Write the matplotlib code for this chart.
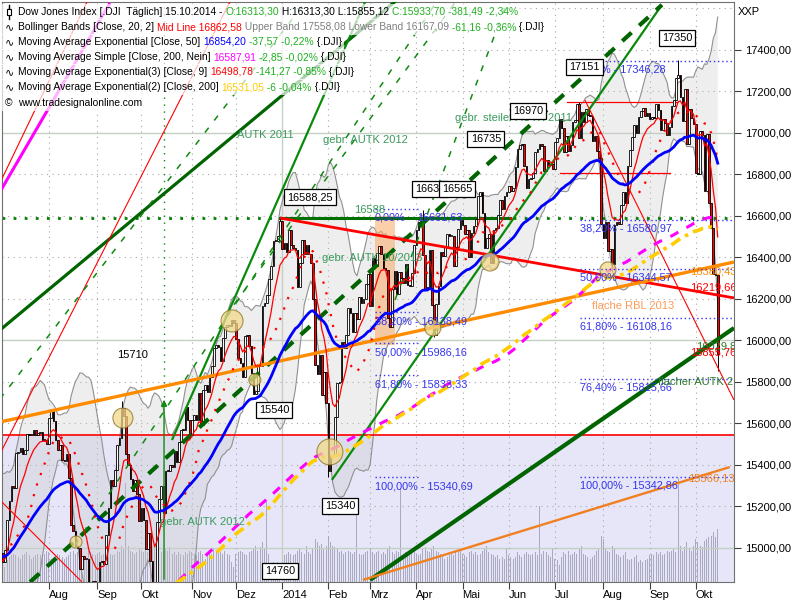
import numpy as np
import pandas as pd
import matplotlib
matplotlib.use('Agg')
import matplotlib.pyplot as plt
from matplotlib.patches import Rectangle, Ellipse
from matplotlib.lines import Line2D

plt.rcParams['font.family'] = ['Liberation Sans', 'DejaVu Sans']

# --- DJI daily closes, Jan-Jun 2013 (only needed to warm up the 200-day averages)
pre_close = [
    13412, 13391, 13435, 13384, 13329, 13390, 13471, 13488, 13507, 13534, 13511,
    13596, 13650, 13712, 13779, 13825, 13896, 13881, 13954, 13910, 13861,
    14010, 13880, 13979, 13986, 13944, 13993, 13971, 14019, 13982, 13973,
    13981, 14035, 13928, 13881, 14000, 13784, 13900, 14076, 14054,
    14090, 14128, 14254, 14296, 14329, 14397, 14447, 14450, 14455, 14539,
    14514, 14453, 14456, 14512, 14421, 14512, 14448, 14560, 14527, 14579,
    14573, 14662, 14550, 14606, 14565, 14613, 14673, 14802, 14865, 14865, 14599,
    14757, 14619, 14538, 14548, 14568, 14719, 14676, 14700, 14713, 14819, 14840,
    14700, 14831, 14974, 14969, 15056, 15105, 15083, 15118, 15091, 15215, 15275,
    15233, 15354, 15335, 15388, 15307, 15294, 15303, 15409, 15302, 15324, 15116,
    15254, 15177, 14960, 15040, 15248, 15239, 15122, 14995, 15176, 15070,
    15180, 15318, 15112, 14758, 14800, 14660, 14760, 14910, 15024, 14910,
]

# --- visible period, Jul 2013 - 15.10.2014
close = [
    # Jul 2013
    14975, 14932, 14988, 15135, 15225, 15300, 15291, 15460, 15464, 15484, 15451,
    15470, 15548, 15543, 15545, 15568, 15542, 15555, 15559, 15521, 15520, 15500,
    # Aug
    15628, 15658, 15612, 15519, 15471, 15498, 15425, 15419, 15451, 15337, 15112,
    15081, 15011, 15002, 14897, 14963, 14946, 14946, 14776, 14824, 14840, 14810,
    # Sep
    14834, 14930, 14938, 14922, 15063, 15191, 15326, 15300, 15376, 15494,
    15529, 15676, 15636, 15451, 15401, 15334, 15273, 15328, 15258, 15130,
    # Okt
    15192, 15133, 14996, 15073, 14936, 14776, 14802, 15127, 15237, 15301, 15168, 15373,
    15372, 15400, 15392, 15468, 15413, 15509, 15570, 15569, 15681, 15619, 15546,
    # Nov
    15616, 15639, 15618, 15747, 15594, 15762, 15784, 15751, 15822, 15876,
    15962, 15976, 15968, 15900, 16010, 16065, 16073, 16072, 16097, 16086,
    # Dez
    16008, 15915, 15889, 15822, 16020, 16025, 15973, 15844, 15740, 15755, 15885,
    15875, 16168, 16179, 16221, 16294, 16358, 16479, 16478, 16505, 16577,
    # Jan 2014
    16441, 16470, 16425, 16531, 16462, 16445, 16437, 16257, 16374, 16482, 16418,
    16459, 16415, 16374, 16198, 15880, 15838, 15929, 15739, 15849, 15699,
    # Feb
    15373, 15445, 15441, 15629, 15795, 15802, 15994, 15964, 16028, 16154,
    16130, 16041, 16134, 16104, 16208, 16180, 16199, 16273, 16322,
    # Mrz
    16168, 16396, 16361, 16422, 16453, 16419, 16351, 16340, 16109, 16066, 16247,
    16337, 16223, 16332, 16303, 16276, 16368, 16268, 16264, 16324, 16458,
    # Apr
    16533, 16573, 16573, 16413, 16246, 16257, 16437, 16171, 16027, 16174, 16263,
    16425, 16409, 16449, 16514, 16502, 16502, 16361, 16449, 16535, 16581,
    # Mai
    16558, 16513, 16531, 16401, 16518, 16551, 16583, 16695, 16715, 16614, 16447,
    16492, 16511, 16374, 16533, 16543, 16606, 16676, 16633, 16698, 16717,
    # Jun
    16743, 16722, 16737, 16836, 16924, 16943, 16945, 16843, 16734, 16776, 16781,
    16808, 16906, 16921, 16947, 16937, 16818, 16868, 16846, 16851, 16827,
    # Jul
    16956, 16976, 17068, 17024, 16906, 16985, 16915, 16944, 17055, 17060, 17138,
    16977, 17100, 17052, 17114, 17087, 17083, 16961, 16983, 16913, 16880, 16563,
    # Aug
    16493, 16569, 16430, 16443, 16369, 16554, 16570, 16561, 16652, 16713, 16663,
    16839, 16919, 16979, 17039, 17001, 17077, 17107, 17122, 17080, 17098,
    # Sep
    17068, 17079, 17070, 17138, 17112, 17014, 17068, 17049, 16988, 17031, 17131,
    17157, 17266, 17280, 17173, 17056, 17211, 16946, 17113, 17071, 17043,
    # Okt
    16805, 16802, 17010, 16992, 16720, 16995, 16660, 16544, 16321, 16315, 15934,
]

# notable intraday extremes {day index: (high, low)}
extremes = {
    55: (15709, None), 127: (16588, None), 149: (None, 15341), 192: (16631, None),
    197: (None, 16015), 263: (17151, None), 278: (None, 16333), 308: (17350, None),
    326: (16313, 15855),
}
last_open = 16313.3

volume = [
    70, 75, 45, 65, 75, 80, 85, 80, 75, 70, 80, 85, 90, 80, 70, 75, 80, 85, 80, 75, 85, 95,
    90, 70, 65, 80, 85, 80, 75, 70, 75, 80, 90, 95, 85, 90, 95, 80, 75, 70, 95, 90, 85, 80,
    85, 90, 80, 85, 90, 95, 85, 80, 85, 95, 90, 110, 100, 300, 110, 95, 90, 85, 90, 100,
    95, 90, 100, 90, 95, 110, 105, 120, 100, 90, 95, 100, 95, 105, 85, 90, 80, 90, 85, 80, 90, 85, 95,
    90, 85, 80, 90, 95, 85, 70, 85, 90, 85, 100, 90, 95, 90, 85, 95, 85, 80, 60, 45,
    85, 90, 95, 90, 85, 80, 90, 95, 100, 110, 95, 105, 120, 100, 240, 85, 40, 60, 55, 60, 55,
    70, 80, 85, 90, 85, 80, 85, 95, 100, 90, 85, 110, 90, 85, 100, 130, 120, 110, 115, 100, 110,
    140, 120, 110, 105, 100, 90, 95, 85, 90, 95, 90, 85, 90, 225, 85, 80, 85, 90, 95,
    100, 90, 85, 90, 95, 85, 90, 85, 100, 110, 90, 85, 95, 90, 285, 85, 90, 85, 80, 95, 100,
    85, 80, 85, 100, 105, 95, 90, 100, 110, 95, 90, 85, 80, 70, 75, 80, 85, 80, 95, 90, 95,
    85, 80, 75, 90, 95, 85, 90, 80, 85, 95, 100, 110, 90, 85, 80, 75, 80, 70, 75, 70, 100,
    80, 75, 70, 75, 90, 80, 75, 85, 90, 85, 80, 85, 90, 80, 230, 85, 95, 90, 80, 75, 100,
    70, 65, 50, 75, 90, 85, 95, 80, 85, 90, 85, 100, 110, 85, 80, 75, 70, 75, 80, 95, 100, 140,
    130, 100, 95, 90, 110, 100, 85, 80, 75, 80, 90, 70, 65, 70, 75, 80, 60, 65, 60, 65, 70,
    80, 85, 80, 90, 85, 90, 80, 85, 95, 90, 95, 100, 90, 315, 110, 95, 105, 120, 100, 95, 110,
    130, 120, 110, 105, 125, 130, 135, 140, 150, 135, 160,
]

month_days = [22, 22, 20, 23, 20, 21, 21, 19, 21, 21, 21, 21, 22, 21, 21, 11]
month_labels = ['Aug', 'Sep', 'Okt', 'Nov', 'Dez', '2014', 'Feb', 'Mrz', 'Apr',
                'Mai', 'Jun', 'Jul', 'Aug', 'Sep', 'Okt']

# drawn objects: (day1, price1, day2, price2)
trend_lines = {
    'autk2011': (-0.3, 16050, 180.2, 17641),
    'autk2012': (77.9, 15520, 166.1, 17641),
    'feb_low': (150.6, 15328, 300.6, 17617),
    'flacher': (167.9, 14846, 333.4, 16060),
    'steiler': (13.4, 14836, 300.6, 17617),
    'red_down': (127.0, 16590, 333.4, 16205),
    'rbl2013': (-0.3, 15607, 333.4, 16378),
    'orange_low': (164.7, 14846, 331.5, 15390),
    'red1': (-0.3, 15453, 104.7, 17641),
    'red2': (-0.3, 16759, 39.7, 17641),
    'magenta': (-0.3, 16716, 49.7, 17626),
    'red3': (265.6, 17159, 333.4, 15713),
    'red4': (-0.3, 15231, 37.0, 14836),
    'g1': (-0.3, 15718, 139.3, 17641),
    'g2': (33.8, 15014, 198.8, 17641),
    'g3': (102.0, 16113, 207.5, 17641),
    'g4': (179.3, 16195, 230.6, 17641),
}

fib_left = [('0,00%', 16631.63), ('38,20%', 16138.49), ('50,00%', 15986.16),
            ('61,80%', 15833.33), ('100,00%', 15340.69)]
fib_right = [('0,00%', 17346.28), ('38,20%', 16580.97), ('50,00%', 16344.57),
             ('61,80%', 16108.16), ('76,40%', 15815.66), ('100,00%', 15342.86)]

boxes = [('16588,25', 140.6, 16691), ('15540', 124.3, 15665), ('15340', 154.3, 15202),
         ('14760', 127.0, 14889), ('16631', 195.2, 16730), ('16565', 207.5, 16730),
         ('16735', 220.6, 16971), ('16970', 239.7, 17106), ('17151', 265.6, 17318),
         ('17350', 307.5, 17458)]

circles = [(105.2, 16094, 11), (115.6, 15810, 6), (55.6, 15626, 10), (34.3, 15029, 6),
           (149.7, 15463, 13), (196.5, 16060, 8), (222.5, 16378, 9), (276.1, 16340, 8)]

# --- indicators
allc = pd.Series(pre_close + close, dtype=float)
npre = len(pre_close)
ema50 = allc.ewm(span=50, adjust=False).mean().values[npre:]
ema9 = allc.ewm(span=9, adjust=False).mean().values[npre:]
ema200 = allc.ewm(span=200, adjust=False).mean().values[npre:]
sma200 = allc.rolling(200).mean().values[npre:]
sma20 = allc.rolling(20).mean()
sd20 = allc.rolling(20).std(ddof=0)
bb_up = (sma20 + 2 * sd20).values[npre:]
bb_lo = (sma20 - 2 * sd20).values[npre:]
sma20 = sma20.values[npre:]

c = np.array(close, dtype=float)
n = len(c)
assert len(volume) == n and sum(month_days) == n
o = np.r_[pre_close[-1], c[:-1]]
o[-1] = last_open
hi = np.maximum(o, c)
lo = np.minimum(o, c)
for k, (h, l) in extremes.items():
    if h: hi[k] = max(hi[k], h)
    if l: lo[k] = min(lo[k], l)
x = np.arange(n)

XMIN, XMAX = 0.64, 333.4
YMIN, YMAX = 14836, 17631

fig = plt.figure(figsize=(8, 6), dpi=100)
ax = fig.add_axes([2 / 800, 18 / 600, 732 / 800, 580 / 600])
axv = ax.twinx()
ax.set_zorder(2)
axv.set_zorder(1)
ax.patch.set_visible(False)
axv.patch.set_facecolor('white')

ax.set_xlim(XMIN, XMAX)
ax.set_ylim(YMIN, YMAX)
axv.set_ylim(0, 1750)
axv.set_yticks([])

# lower zone and volume
axv.add_patch(Rectangle((XMIN, YMIN), XMAX - XMIN, 15545 - YMIN, transform=ax.transData,
                        facecolor='#e6e6f8', edgecolor='none', zorder=0))
axv.bar(x, volume, width=0.45, color='#a9a9bf', zorder=1)

# grid
for v in range(15000, 17601, 200):
    if v % 1000 == 0:
        ax.axhline(v, color='#c4d0c4', lw=1, zorder=0.5)
    else:
        ax.axhline(v, color='#a8a8a8', lw=0.8, ls=(0, (1, 4)), zorder=0.5)
starts = np.cumsum(month_days)[:-1]
for s, lab in zip(starts, month_labels):
    if lab == '2014':
        ax.axvline(s, color='#c4d0c4', lw=1, zorder=0.5)
    else:
        ax.axvline(s, color='#a8a8a8', lw=0.8, ls=(0, (1, 4)), zorder=0.5)

# Bollinger bands
ax.fill_between(x, bb_lo, bb_up, color='#c8c8c8', alpha=0.3, lw=0, zorder=1)
ax.plot(x, bb_up, color='#909090', lw=0.8, zorder=1.2)
ax.plot(x, bb_lo, color='#909090', lw=0.8, zorder=1.2)

ax.add_patch(Rectangle((170.2, 15978), 9.1, 622, facecolor='#f7b070', alpha=0.6,
                       edgecolor='none', zorder=1.5))

# horizontals
ax.axhline(15545, color='red', lw=1.2, zorder=2)
ax.axhline(16590, color='#008000', lw=2, ls=(0, (1, 3)), zorder=2)
ax.plot([127, 231.5], [16590, 16590], color='#007000', lw=2.2, zorder=2.1)
ax.plot([257.5, 307.5], [17151, 17151], color='red', lw=0.9, zorder=2.1)
ax.plot([254.3, 304.3], [16807, 16807], color='red', lw=0.9, zorder=2.1)

# trend lines
styles = {
    'autk2011': dict(color='#006400', lw=2.3),
    'autk2012': dict(color='#0a8a0a', lw=1.6),
    'feb_low': dict(color='#0a8a0a', lw=1.6),
    'flacher': dict(color='#006400', lw=3),
    'steiler': dict(color='#006400', lw=3, ls=(0, (3, 2.5))),
    'red_down': dict(color='#ff0000', lw=2),
    'rbl2013': dict(color='#ff8c00', lw=2.4),
    'orange_low': dict(color='#f08020', lw=1.7),
    'red1': dict(color='#ff0000', lw=0.8),
    'red2': dict(color='#ff0000', lw=0.8),
    'magenta': dict(color='#ff00ff', lw=2.2),
    'red3': dict(color='#ff0000', lw=0.8),
    'red4': dict(color='#ff0000', lw=0.8),
    'g1': dict(color='#108a10', lw=1.1, ls=(0, (4, 6))),
    'g2': dict(color='#108a10', lw=1.1, ls=(0, (4, 6))),
    'g3': dict(color='#108a10', lw=1.1, ls=(0, (4, 6))),
    'g4': dict(color='#108a10', lw=1.1, ls=(0, (4, 6))),
}
for key, (x1, y1, x2, y2) in trend_lines.items():
    ax.plot([x1, x2], [y1, y2], zorder=4, solid_capstyle='butt', **styles[key])

# vertical arrow "gebr. AUTK 2012"
ax.plot([74.3, 74.3], [15728, YMAX], color='#108a10', lw=1, ls=(0, (1, 4)), zorder=2)
ax.annotate('', xy=(74.3, 15728), xytext=(74.3, YMIN),
            arrowprops=dict(arrowstyle='-|>', color='#108a10', lw=1, mutation_scale=9), zorder=4)

# candles
ax.vlines(x, lo, hi, color='black', lw=0.7, zorder=3)
body = np.maximum(np.abs(c - o), 4)
ax.bar(x, body, bottom=np.minimum(o, c), width=0.75,
       color=np.where(c >= o, 'white', 'red'), edgecolor='black', lw=0.6, zorder=3.1)

# averages
ax.plot(x, ema9, color='red', lw=0.9, zorder=5)
ax.plot(x, sma20, color='red', lw=1.6, ls=(0, (1, 4)), zorder=5)
ax.plot(x, ema50, color='#0000ff', lw=2, zorder=5)
ax.plot(x, sma200, color='#ff00ff', lw=2.2, ls=(0, (3, 3)), zorder=5)
ax.plot(x, ema200, color='#ffcc00', lw=2.6, ls=(0, (3, 1.5, 1, 1.5)), zorder=5)

# circles
for cx, cy, r in circles:
    ax.add_patch(Ellipse((cx, cy), 2 * r / 2.2, 2 * r * 4.819, facecolor='#f2d98a', alpha=0.75,
                         edgecolor='#8a7020', lw=0.8, zorder=6))

# fibonacci
blue = '#3333ee'
for lab, v in fib_left:
    ax.plot([170.2, 189.8], [v, v], color=blue, lw=1, ls=(0, (1, 2)), zorder=6)
for lab, v in fib_left[1:]:
    ax.text(170.2, v - 45, f'{lab} - {v:.2f}'.replace('.', ','), color=blue, fontsize=7.8,
            va='center', zorder=7)
ax.text(170.2, 16591, '0,00%', color=blue, fontsize=7.8, va='center', zorder=7)
ax.text(189.3, 16591, '16631,63', color=blue, fontsize=7.8, va='center', zorder=7)
for lab, v in fib_right:
    ax.plot([263.4, XMAX], [v, v], color=blue, lw=1, ls=(0, (1, 2)), zorder=6)
    ax.text(263.4, v - 42, f'{lab} - {v:.2f}'.replace('.', ','), color=blue, fontsize=7.8,
            va='center', zorder=7)

# boxes
for lab, bx, by in boxes:
    ax.text(bx, by, lab, fontsize=7.8, ha='center', va='center', zorder=8,
            bbox=dict(boxstyle='square,pad=0.3', facecolor='white', edgecolor='black', lw=0.9))

green = '#3a9a5c'
notes = [
    ('AUTK 2011', 107.5, 16990, green), ('gebr. AUTK 2012', 146.5, 16966, green),
    ('gebr. steiler AUTK 2011', 206.5, 17072, green), ('16588', 160.5, 16629, green),
    ('gebr. AUTK 10/2013', 146.1, 16398, green), ('gebr. AUTK 2012', 72.5, 15125, green),
    ('flache RBL 2013', 268.8, 16166, '#ff9a55'), ('15710', 52.9, 15930, 'black'),
    ('16380,43', 313.4, 16330, '#ff8c00'), ('16219,66', 313.4, 16253, 'red'),
    ('16029,8', 316.0, 15969, '#2d7a2d'), ('15855,76', 313.4, 15940, 'red'),
    ('flacher AUTK 2', 298.8, 15800, '#2d7a2d'), ('15366,13', 312.5, 15333, '#f08020'),
]
for t, tx, ty, col in notes:
    ax.text(tx, ty, t, color=col, fontsize=8, va='center', zorder=7, clip_on=True)

# axes, ticks
for sp in ax.spines.values():
    sp.set_color('#707070')
for sp in axv.spines.values():
    sp.set_visible(False)
ax.yaxis.tick_right()
ax.set_yticks(range(15000, 17401, 200))
ax.set_yticklabels([f'{v},00' for v in range(15000, 17401, 200)])
ax.set_xticks(starts)
ax.set_xticklabels(month_labels, ha='left')
ax.tick_params(axis='both', direction='out', length=5, width=0.8, colors='#404040',
               labelsize=8, labelcolor='black')
ax.tick_params(axis='y', pad=3)
ax.tick_params(axis='x', pad=1)
fig.text(738 / 800, 1 - 12 / 600, 'XXP', fontsize=8, va='center')

# header legend
fig.canvas.draw()
renderer = fig.canvas.get_renderer()
LSIZE = 7.4


def text_width(s):
    t1 = fig.text(0, 0, s + '|', fontsize=LSIZE)
    t2 = fig.text(0, 0, '|', fontsize=LSIZE)
    w = t1.get_window_extent(renderer).width - t2.get_window_extent(renderer).width
    t1.remove()
    t2.remove()
    return w


def header_line(y_px, parts, icon=True):
    xp = 18
    for s, col in parts:
        fig.text(xp / 800, 1 - y_px / 600, s, fontsize=LSIZE, color=col, va='center', zorder=4)
        xp += text_width(s)
    fig.add_artist(Rectangle((0, 1 - (y_px + 7.5) / 600), (xp + 2) / 800, 15 / 600,
                             transform=fig.transFigure, facecolor='white', alpha=0.7,
                             edgecolor='none', zorder=3))
    if icon:
        fig.text(5 / 800, 1 - y_px / 600, '∿', fontsize=8, family=['DejaVu Sans'],
                 va='center', zorder=4)


G = '#20b020'
header_line(12, [('Dow Jones Index [.DJI  Täglich] 15.10.2014 - ', 'black'), ('O:16313,30', G),
                 (' H:16313,30 L:15855,12 ', 'black'), ('C:15933,70 -381,49 -2,34%', G)], icon=False)
fig.add_artist(Line2D([8.5 / 800, 8.5 / 800], [1 - 5 / 600, 1 - 19 / 600], color='black', lw=1, zorder=4))
fig.add_artist(Rectangle((6.5 / 800, 1 - 15 / 600), 4 / 800, 6 / 600, transform=fig.transFigure,
                         facecolor='white', edgecolor='black', lw=0.8, zorder=4.5))
header_line(27, [('Bollinger Bands [Close, 20, 2] ', 'black'), ('Mid Line 16862,58', 'red'),
                 (' Upper Band 17558,08 Lower Band 16167,09', '#808080'), (' -61,16 -0,36%', G),
                 (' {.DJI}', 'black')])
header_line(42, [('Moving Average Exponential [Close, 50] ', 'black'), ('16854,20', '#0000ff'),
                 (' -37,57 -0,22%', G), (' {.DJI}', 'black')])
header_line(57, [('Moving Average Simple [Close, 200, Nein] ', 'black'), ('16587,91', '#ff00ff'),
                 (' -2,85 -0,02%', G), (' {.DJI}', 'black')])
header_line(72, [('Moving Average Exponential(3) [Close, 9] ', 'black'), ('16498,78', 'red'),
                 (' -141,27 -0,85%', G), (' {.DJI}', 'black')])
header_line(87, [('Moving Average Exponential(2) [Close, 200] ', 'black'), ('16531,05', '#ffcc00'),
                 (' -6 -0,04%', G), (' {.DJI}', 'black')])
header_line(103, [('www.tradesignalonline.com', 'black')], icon=False)
fig.text(5 / 800, 1 - 103 / 600, '©', fontsize=LSIZE, va='center', zorder=4)

fig.savefig('out.png', dpi=100)
